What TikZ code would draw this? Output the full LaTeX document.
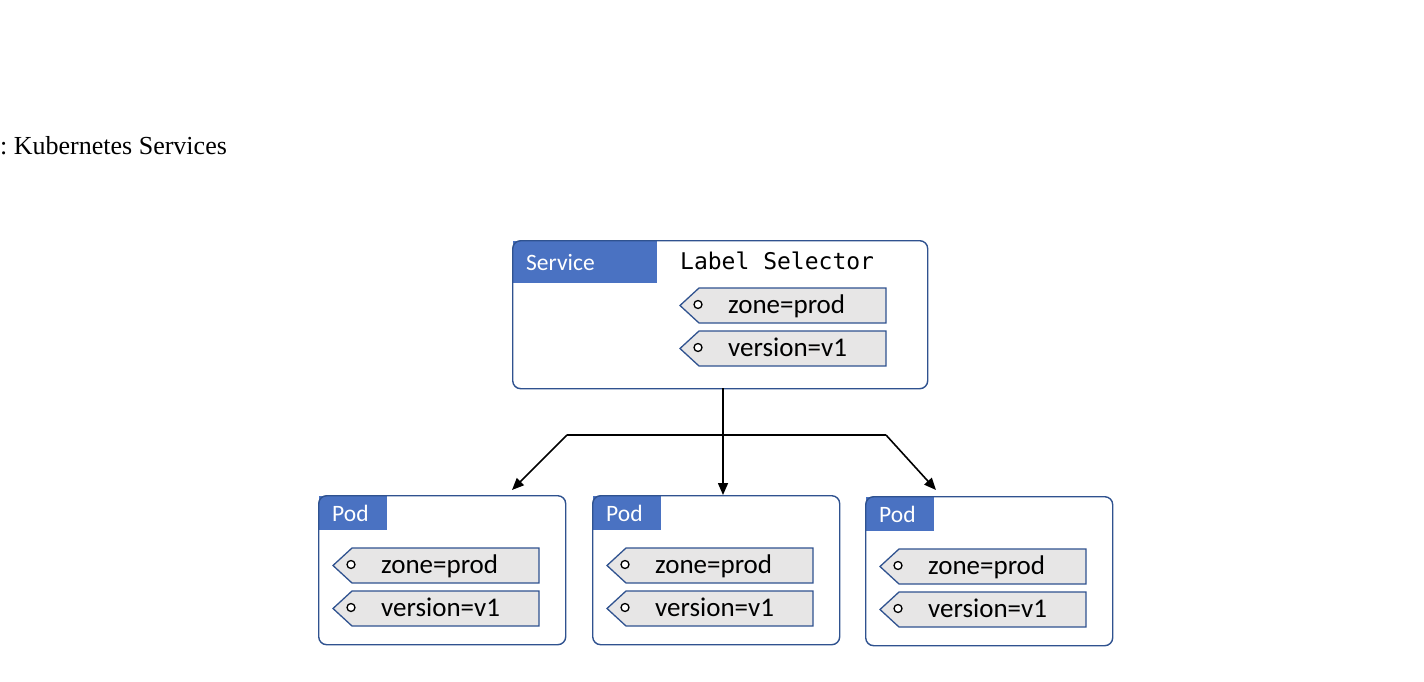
\documentclass[tikz,border=0pt]{standalone}
\usepackage{fontspec}
\setsansfont{Carlito}
\setmonofont{DejaVu Sans Mono}
\newfontfamily\captionfont{Liberation Serif}
\usetikzlibrary{arrows.meta}
\definecolor{boxline}{HTML}{2F528F}
\definecolor{hdrfill}{HTML}{4A72C2}
\definecolor{tagfill}{HTML}{E7E6E6}
\begin{document}
\begin{tikzpicture}[x=1pt,y=-1pt,
  card/.style={draw=boxline, line width=1.4pt, rounded corners=8pt, fill=none,
    anchor=north west, inner sep=0pt},
  hdr/.style={fill=hdrfill, anchor=north west, inner sep=0pt},
  hdrtext/.style={text=white, font=\sffamily\fontsize{23.5}{26}\selectfont,
    anchor=base west, inner sep=0pt},
  tagtext/.style={font=\sffamily\fontsize{27}{30}\selectfont, anchor=base west, inner sep=0pt},
  conn/.style={draw=black, line width=1.6pt},
  arr/.style={conn, -{Triangle[length=12pt,width=10pt]}},
  pics/tag/.style={code={
    \draw[draw=boxline, line width=1.3pt, fill=tagfill]
      (0,0) -- (19,-17.5) -- (206,-17.5) -- (206,17.5) -- (19,17.5) -- cycle;
    \draw[black, line width=1.3pt, fill=white] (18,-1) circle (4pt);
    \node[tagtext] (-text) at (48,8) {#1};
  }}
]
\useasboundingbox (0,0) rectangle (1424,682);

% caption
\node[font=\captionfont\fontsize{26}{30}\selectfont, anchor=base west, inner sep=0pt] (title)
  at (0,154) {:\ Kubernetes Services};

% service box
\node[hdr, minimum width=144pt, minimum height=42pt] (svchdr) at (513,241) {};
\node[hdrtext] (svchdrtext) at (526,270) {Service};
\node[card, minimum width=415pt, minimum height=148pt] (svc) at (512,240) {};
\node[font=\ttfamily\fontsize{23}{26}\selectfont, anchor=base west, inner sep=0pt]
  (selector) at (680,269.5) {Label Selector};
\pic (sz) at (680,305.5) {tag={zone=prod}};
\pic (sv) at (680,348.5) {tag={version=v1}};

% pods
\foreach \i/\px/\py in {1/318/495, 2/592/495, 3/865/496} {
  \node[hdr, minimum width=68pt, minimum height=34pt] (p\i hdr) at (\px+1,\py+1) {};
  \node[hdrtext] (p\i hdrtext) at (\px+14,\py+26) {Pod};
  \node[card, minimum width=247pt, minimum height=149pt] (pod\i) at (\px,\py) {};
  \pic (p\i z) at (\px+15,\py+70.5) {tag={zone=prod}};
  \pic (p\i v) at (\px+15,\py+113.5) {tag={version=v1}};
}

% connectors
\coordinate (trunk) at (723,388);
\coordinate (bl) at (567,435);
\coordinate (br) at (886,435);
\coordinate (tipl) at (512,490);
\coordinate (tipr) at (936,490);
\draw[conn] (bl) -- (br);
\draw[arr] (trunk) -- (trunk |- pod2.north);
\draw[arr] (bl) -- (tipl);
\draw[arr] (br) -- (tipr);
\end{tikzpicture}
\end{document}
